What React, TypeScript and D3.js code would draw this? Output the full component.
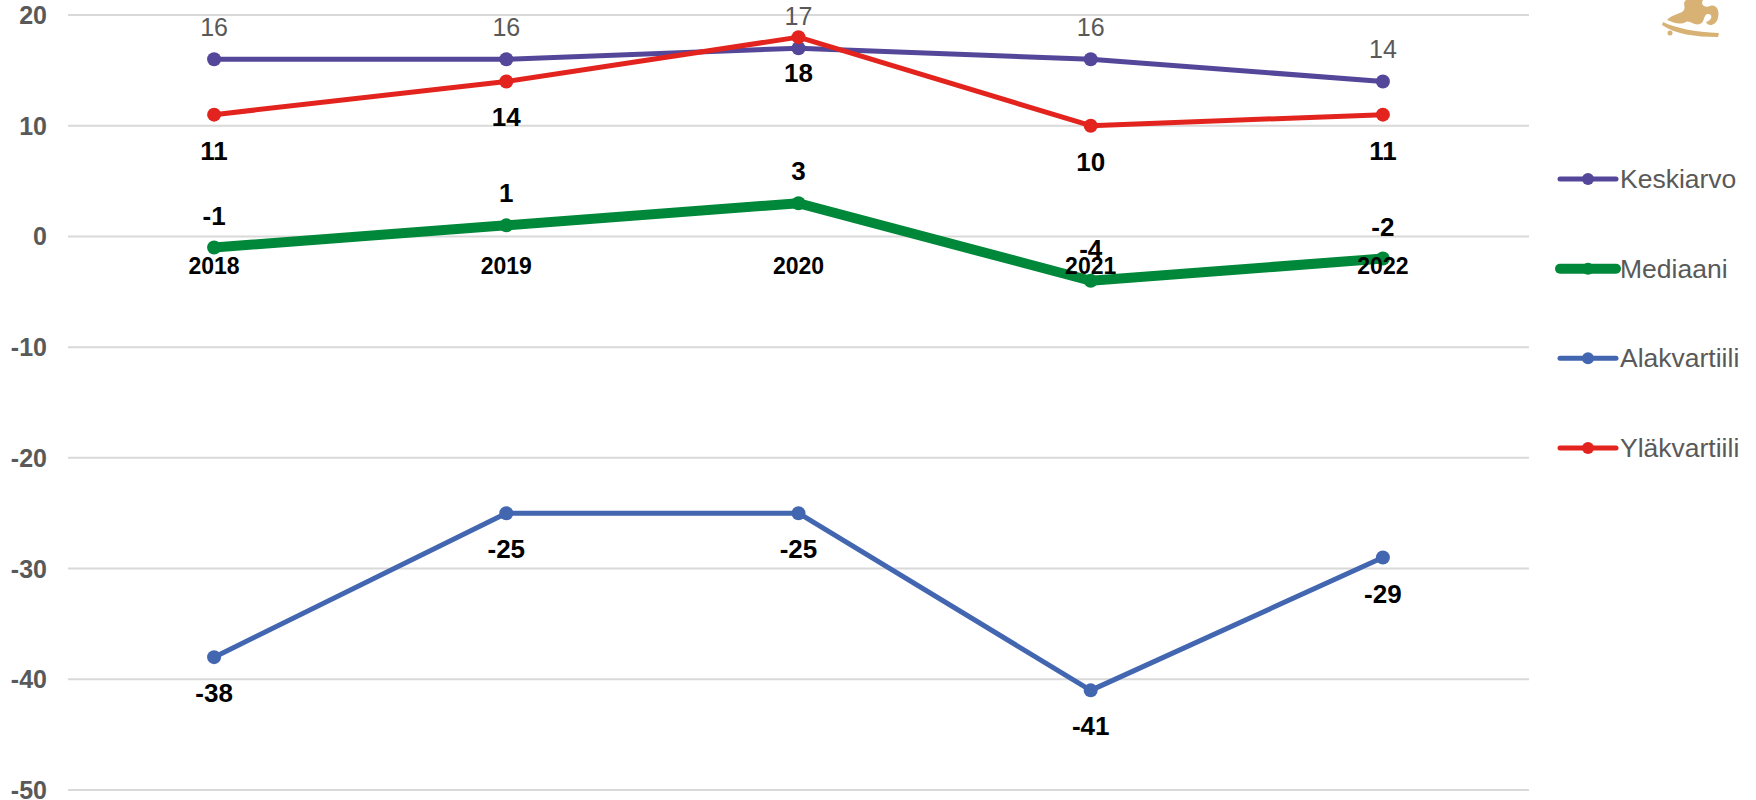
import React from 'react';
import * as d3 from 'd3';

const years = ['2018', '2019', '2020', '2021', '2022'];
const keskiarvo = [16, 16, 17, 16, 14];
const mediaani = [-1, 1, 3, -4, -2];
const alakvartiili = [-38, -25, -25, -41, -29];
const ylakvartiili = [11, 14, 18, 10, 11];
const yTicks = [20, 10, 0, -10, -20, -30, -40, -50];

const seriesNames = ['Keskiarvo', 'Mediaani', 'Alakvartiili', 'Yläkvartiili'];
const seriesColors = ['#54479A', '#00883A', '#4366B0', '#E3241E'];

const width = 1756;
const height = 800;
const margin = { top: 15, right: 227, bottom: 10, left: 68 };
const font = 'Liberation Sans, Arial, sans-serif';

interface Series {
  name: string;
  values: number[];
  color: string;
  stroke: number;
  labelPos: 'above' | 'below';
  labelBold: boolean;
}

const series: Series[] = [
  { name: seriesNames[0], values: keskiarvo, color: seriesColors[0], stroke: 5, labelPos: 'above', labelBold: false },
  { name: seriesNames[1], values: mediaani, color: seriesColors[1], stroke: 10, labelPos: 'above', labelBold: true },
  { name: seriesNames[2], values: alakvartiili, color: seriesColors[2], stroke: 5, labelPos: 'below', labelBold: true },
  { name: seriesNames[3], values: ylakvartiili, color: seriesColors[3], stroke: 5, labelPos: 'below', labelBold: true },
];

const App: React.FC = () => {
  const x = d3
    .scaleBand()
    .domain(years)
    .range([margin.left, width - margin.right]);

  const y = d3
    .scaleLinear()
    .domain([-50, 20])
    .range([790, margin.top]);

  const cx = (i: number) => (x(years[i]) || 0) + x.bandwidth() / 2;

  const line = d3
    .line<number>()
    .x((d, i) => cx(i))
    .y((d) => y(d));

  const legendX = 1560;
  const legendY = d3.scalePoint<string>().domain(seriesNames).range([179, 448]);

  return (
    <svg
      width={width}
      height={height}
      style={{ position: 'absolute', left: 0, top: 0, background: '#fff' }}
      fontFamily={font}
    >
      {/* gridlines + y labels */}
      {yTicks.map((t) => (
        <g key={t}>
          <line x1={margin.left} x2={width - margin.right} y1={y(t)} y2={y(t)} stroke="#D9D9D9" strokeWidth={2} />
          <text x={47} y={y(t)} textAnchor="end" dominantBaseline="central" fontSize={25} fontWeight="bold" fill="#595959">
            {t}
          </text>
        </g>
      ))}

      {/* lines */}
      {series.map((s) => (
        <g key={s.name}>
          <path d={line(s.values) || ''} fill="none" stroke={s.color} strokeWidth={s.stroke} strokeLinejoin="round" strokeLinecap="round" />
          {s.values.map((v, i) => (
            <circle key={i} cx={cx(i)} cy={y(v)} r={7} fill={s.color} />
          ))}
        </g>
      ))}

      {/* category labels near zero line */}
      {years.map((yr, i) => (
        <text key={yr} x={cx(i)} y={y(0) + 30} textAnchor="middle" dominantBaseline="central" fontSize={23} fontWeight="bold" fill="#000">
          {yr}
        </text>
      ))}

      {/* data labels */}
      {series.map((s) =>
        s.values.map((v, i) => (
          <text
            key={s.name + i}
            x={cx(i)}
            y={y(v) + (s.labelPos === 'above' ? -32 : 36)}
            textAnchor="middle"
            dominantBaseline="central"
            fontSize={s.labelBold ? 26 : 25}
            fontWeight={s.labelBold ? 'bold' : 'normal'}
            fill={s.labelBold ? '#000' : '#595959'}
          >
            {v}
          </text>
        ))
      )}

      {/* legend */}
      {series.map((s) => {
        const ly = legendY(s.name) || 0;
        return (
          <g key={'lg' + s.name}>
            <line x1={legendX} x2={legendX + 56} y1={ly} y2={ly} stroke={s.color} strokeWidth={s.stroke} strokeLinecap="round" />
            <circle cx={legendX + 28} cy={ly} r={6} fill={s.color} />
            <text x={legendX + 60} y={ly} dominantBaseline="central" fontSize={26.5} fill="#595959">
              {s.name}
            </text>
          </g>
        );
      })}

      {/* logo (partial, cut at top) */}
      <g fill="#D8B274">
        <path d="M1663,22 C1675,28 1695,32 1719,33 L1718,37 C1695,37 1675,34 1662,25 Z" />
        <path d="M1667,20 C1672,14 1682,14 1684,10 C1686,6 1682,3 1686,0 L1703,0 C1700,5 1705,8 1710,6 C1716,4 1720,10 1718,18 C1716,26 1708,27 1706,22 C1713,20 1713,13 1707,14 C1703,16 1705,22 1700,24 C1694,26 1690,20 1686,22 C1680,25 1674,23 1667,20 Z" />
        <circle cx="1670" cy="33" r="2.5" />
      </g>
    </svg>
  );
};

export default App;
